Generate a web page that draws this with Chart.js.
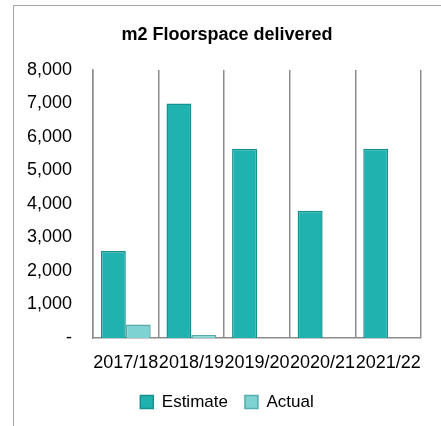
<!DOCTYPE html>
<html>
<head>
<meta charset="utf-8">
<script src="https://cdn.jsdelivr.net/npm/chart.js@4"></script>
<style>
  html, body { margin: 0; padding: 0; background: #fff; overflow: hidden; }
  #wrap { position: relative; width: 441px; height: 426px; }
  #frame { position: absolute; left: 13px; top: 5px; width: 440px; height: 440px; border: 1px solid #a6a6a6; box-sizing: border-box; }
  #chartBars { position: absolute; left: 0; top: 0; }
</style>
</head>
<body>
<div id="wrap">
  <div id="frame"></div>
  <canvas id="chartBars" width="441" height="426"></canvas>
</div>
<script>
const years = ["2017/18", "2018/19", "2019/20", "2020/21", "2021/22"];
const estimate = [2600, 7000, 5650, 3800, 5650];
const actual = [400, 100, null, null, null];
const yTicks = [0, 1000, 2000, 3000, 4000, 5000, 6000, 7000, 8000];

const fontName = "'Liberation Sans', Arial, sans-serif";

document.addEventListener("DOMContentLoaded", function () {
    const data = {
        labels: years,
        datasets: [
            {
                label: "Estimate",
                data: estimate,
                backgroundColor: "#1fb2ae",
                borderColor: "#17908d",
                borderWidth: 1.5,
                borderSkipped: "bottom",
            },
            {
                label: "Actual",
                data: actual,
                backgroundColor: "#7fd2d2",
                borderColor: "#58acad",
                borderWidth: 1.5,
                borderSkipped: "bottom",
            },
        ],
    };

    const config = {
        type: "bar",
        data: data,
        options: {
            responsive: false,
            animation: false,
            datasets: {
                bar: { categoryPercentage: 0.76, barPercentage: 1 },
            },
            layout: { padding: { left: 13, right: 0, top: 10, bottom: 5.5 } },
            plugins: {
                title: {
                    display: true,
                    text: "m2 Floorspace delivered",
                    color: "#000",
                    font: { family: fontName, size: 18, weight: "bold" },
                    padding: { top: 14.2, bottom: 24.2 },
                },
                legend: {
                    position: "bottom",
                    labels: {
                        color: "#000",
                        font: { family: fontName, size: 17 },
                        boxWidth: 13,
                        boxHeight: 13,
                        padding: 17,
                    },
                },
                tooltip: { enabled: false },
            },
            scales: {
                x: {
                    grid: {
                        display: true,
                        offset: true,
                        color: "#8c8c8c",
                        lineWidth: 1.5,
                        drawTicks: false,
                    },
                    border: { display: true, color: "#8c8c8c", width: 1.5 },
                    ticks: {
                        color: "#000",
                        padding: 14,
                        maxRotation: 0,
                        autoSkip: false,
                        font: { family: fontName, size: 18 },
                    },
                    afterFit: function (scale) {
                        scale.height = 38.5;
                    },
                },
                y: {
                    min: 0,
                    max: 8000,
                    afterBuildTicks: function (scale) {
                        scale.ticks = yTicks.map(function (v) { return { value: v }; });
                    },
                    grid: { display: false },
                    border: { display: true, color: "#8c8c8c", width: 1.5 },
                    ticks: {
                        color: "#000",
                        padding: 13,
                        font: { family: fontName, size: 18 },
                        callback: function (v) {
                            return v === 0 ? "-" : v.toLocaleString("en-US");
                        },
                    },
                    afterFit: function (scale) {
                        scale.width = 80;
                    },
                },
                // empty right axis only to keep the plot off the right edge
                yRight: {
                    position: "right",
                    display: true,
                    grid: { display: false },
                    border: { display: false },
                    ticks: { display: false },
                    afterFit: function (scale) {
                        scale.width = 20;
                    },
                },
            },
        },
    };

    const el = document.getElementById("chartBars");
    if (el) {
        new Chart(el, config);
    }
});
</script>
</body>
</html>
